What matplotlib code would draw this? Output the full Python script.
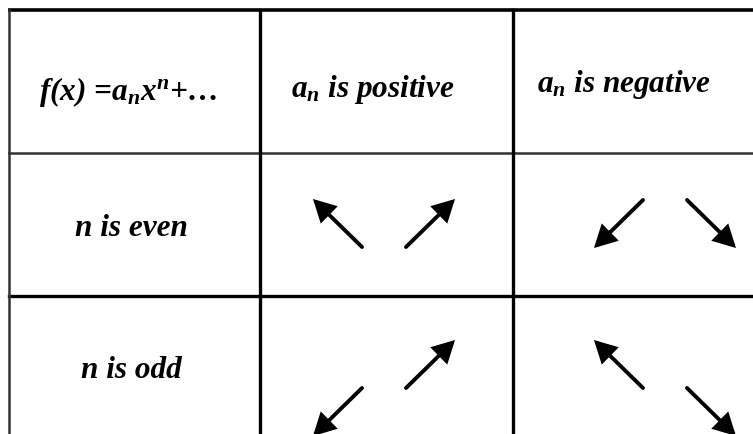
import matplotlib
matplotlib.use("Agg")
import matplotlib.pyplot as plt
from matplotlib.patches import FancyArrowPatch

# ---- table content ----
header_labels = ["f(x) =$a_n$$x^n$+…", "$a_n$ is positive", "$a_n$ is negative"]
row_labels = ["n is even", "n is odd"]
col_keys = ["positive", "negative"]
# end-behaviour arrows: (left end, right end); +1 = goes up, -1 = goes down
behaviour = {
    ("n is even", "positive"): (+1, +1),
    ("n is even", "negative"): (-1, -1),
    ("n is odd", "positive"): (-1, +1),
    ("n is odd", "negative"): (+1, -1),
}

plt.rcParams["mathtext.fontset"] = "custom"
plt.rcParams["mathtext.rm"] = "Liberation Serif:bold:italic"
plt.rcParams["mathtext.it"] = "Liberation Serif:bold:italic"
plt.rcParams["mathtext.bf"] = "Liberation Serif:bold:italic"

W, H = 753, 435
fig = plt.figure(figsize=(W / 100, H / 100), dpi=100)
ax = fig.add_axes([0, 0, 1, 1])
ax.set_xlim(0, W)
ax.set_ylim(H, 0)
ax.axis("off")

col_edges = [9, 260, 513]
row_edges = [11, 154, 297]

# grid lines
ax.plot([col_edges[0] - 1, W], [row_edges[0], row_edges[0]], color="black", lw=2.6, solid_capstyle="butt")
ax.plot([col_edges[0], W], [row_edges[1], row_edges[1]], color="#333333", lw=1.8)
ax.plot([col_edges[0], W], [row_edges[2], row_edges[2]], color="black", lw=2.4)
ax.plot([col_edges[0], col_edges[0]], [row_edges[0], H], color="#333333", lw=1.8)
for x in col_edges[1:]:
    ax.plot([x, x], [row_edges[0], H], color="black", lw=2.4)

font = dict(family="Liberation Serif", weight="bold", style="italic", fontsize=22.5, color="black")

# header row (baseline positions)
hx = [128, 373, 624]
hy = [100, 97, 92]
for lab, x, y in zip(header_labels, hx, hy):
    ax.text(x, y, lab, ha="center", va="baseline", **font)

# row labels
ry = [236, 378]
for lab, y in zip(row_labels, ry):
    ax.text(131, y, lab, ha="center", va="baseline", **font)

# arrows
col_cx = {"positive": 384, "negative": 665}
anchor_y = {("n is even", "positive"): 248, ("n is even", "negative"): 201,
            ("n is odd", "positive"): 389, ("n is odd", "negative"): 389}
inner_gap = 22
span = 49
rise = 48
for (rname, cname), (dl, dr) in behaviour.items():
    cx = col_cx[cname]
    ay = anchor_y[(rname, cname)]
    for side, d in ((-1, dl), (+1, dr)):
        start = (cx + side * inner_gap, ay)
        end = (cx + side * (inner_gap + span), ay - d * rise)
        arr = FancyArrowPatch(start, end, arrowstyle="-|>,head_length=0.6,head_width=0.32",
                              mutation_scale=20, lw=2.8, color="black",
                              shrinkA=0, shrinkB=0, joinstyle="miter", clip_on=True)
        ax.add_patch(arr)

fig.savefig("out.png", dpi=100, facecolor="white")
